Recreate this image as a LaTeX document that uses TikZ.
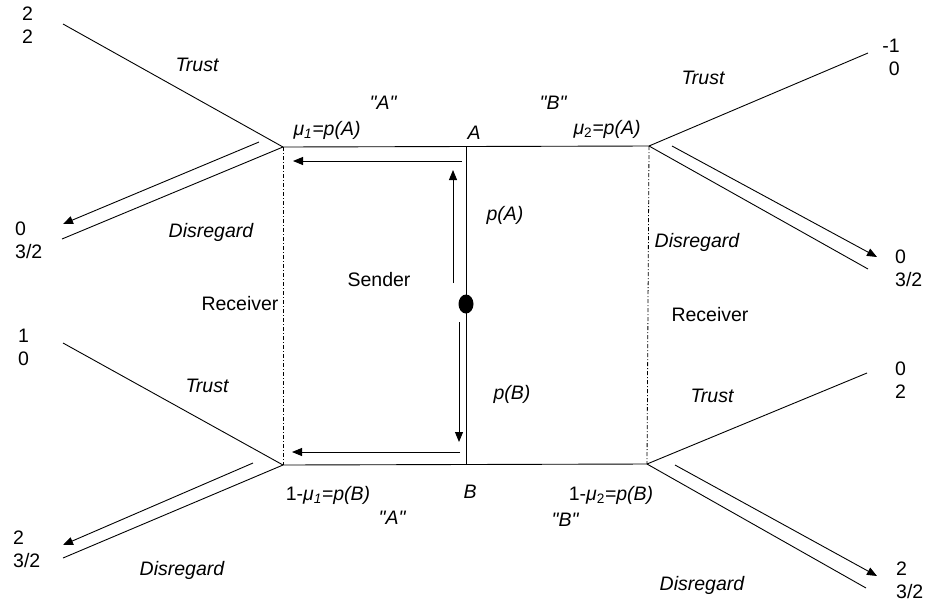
\documentclass[tikz,border=0pt]{standalone}
\usepackage{fontspec}
\setmainfont{Liberation Sans}[Ligatures=TeXOff]
\usetikzlibrary{arrows.meta,shapes.geometric}
\begin{document}
\begin{tikzpicture}[x=1pt,y=-1pt,
  every node/.style={font=\fontsize{19.5}{23}\selectfont, inner sep=0pt},
  lab/.style={anchor=base, font=\fontsize{19.5}{23}\selectfont\itshape},
  txt/.style={anchor=base},
  payw/.style={anchor=base west, align=left},
  paye/.style={anchor=base east, align=right},
  edge/.style={line width=0.9pt},
  arr/.style={line width=0.9pt, -{Triangle[length=10pt,width=8pt]}},
  info/.style={line width=0.8pt, dash pattern=on 4pt off 2pt on 1pt off 2pt}]
\useasboundingbox (0,0) rectangle (925,603);

% information-set vertices
\coordinate (TL) at (283,147);
\coordinate (TR) at (649,146);
\coordinate (BL) at (283,465);
\coordinate (BR) at (647,464);
\coordinate (nA) at (466,147);
\coordinate (nB) at (466,465);

% terminal points
\coordinate (tlT) at (63,24);
\coordinate (tlD) at (62,239);
\coordinate (tlAs) at (259,142);
\coordinate (tlAe) at (63,224);
\coordinate (blT) at (63,343);
\coordinate (blD) at (63,558);
\coordinate (blAs) at (253,463);
\coordinate (blAe) at (63,545);
\coordinate (trT) at (868,53);
\coordinate (trD) at (868,269);
\coordinate (trAs) at (672,146);
\coordinate (trAe) at (877,257);
\coordinate (brT) at (867,373);
\coordinate (brD) at (866,588);
\coordinate (brAs) at (675,465);
\coordinate (brAe) at (877,576);

% sender arrows
\coordinate (upS) at (453,283);
\coordinate (upE) at (453,170);
\coordinate (dnS) at (459,322);
\coordinate (dnE) at (459,442);
\coordinate (htS) at (462,161);
\coordinate (htE) at (293,161);
\coordinate (hbS) at (460,452);
\coordinate (hbE) at (292,452);

% main tree
\draw[edge] (TL) -- (TR);
\draw[edge] (BL) -- (BR);
\draw[edge] (nA) -- (nB);
\node[ellipse, fill, minimum width=15, minimum height=19] (dot) at (466,304) {};

\draw[info] (TL) -- (BL);
\draw[info] (TR) -- (BR);

\draw[edge] (TL) -- (tlT);
\draw[edge] (TL) -- (tlD);
\draw[arr] (tlAs) -- (tlAe);
\draw[edge] (BL) -- (blT);
\draw[edge] (BL) -- (blD);
\draw[arr] (blAs) -- (blAe);
\draw[edge] (TR) -- (trT);
\draw[edge] (TR) -- (trD);
\draw[arr] (trAs) -- (trAe);
\draw[edge] (BR) -- (brT);
\draw[edge] (BR) -- (brD);
\draw[arr] (brAs) -- (brAe);

\draw[arr] (upS) -- (upE);
\draw[arr] (dnS) -- (dnE);
\draw[arr] (htS) -- (htE);
\draw[arr] (hbS) -- (hbE);

% payoffs (anchor = baseline of last line)
\node[payw] (p1) at (22,43) {2\\2};
\node[payw] (p2) at (15,258) {0\\3/2};
\node[payw] (p3) at (18,365) {1\\0};
\node[payw] (p4) at (13,567) {2\\3/2};
\node[paye] (p5) at (900,75) {-1\\0};
\node[payw] (p6) at (895,286) {0\\3/2};
\node[payw] (p7) at (895,398) {0\\2};
\node[payw] (p8) at (896,598) {2\\3/2};

% action labels
\node[lab] (t1) at (197,71) {Trust};
\node[lab] (d1) at (211,237) {Disregard};
\node[lab] (t2) at (207,392) {Trust};
\node[lab] (d2) at (182,575) {Disregard};
\node[lab] (t3) at (703,84) {Trust};
\node[lab] (d3) at (697,247) {Disregard};
\node[lab] (t4) at (712,402) {Trust};
\node[lab] (d4) at (702,590) {Disregard};

% messages and beliefs
\node[lab] (mA1) at (383,109) {"A"};
\node[lab] (mB1) at (553,109) {"B"};
\node[lab] (mA2) at (392,524) {"A"};
\node[lab] (mB2) at (565,526) {"B"};
\node[lab] (mu1) at (327,135) {μ\textsubscript{1}=p(A)};
\node[lab] (mu2) at (607,134) {μ\textsubscript{\upshape 2}=p(A)};
\node[lab] (mu3) at (328,500) {{\upshape 1-}μ\textsubscript{1}=p(B)};
\node[lab] (mu4) at (611,500) {{\upshape 1-}μ\textsubscript{\upshape 2}=p(B)};
\node[lab] (lA) at (474,139) {A};
\node[lab] (lB) at (470,498) {B};
\node[lab] (pA) at (505,220) {p(A)};
\node[lab] (pB) at (512,399) {p(B)};

% players
\node[txt] (snd) at (379,286) {Sender};
\node[txt] (rc1) at (240,310) {Receiver};
\node[txt] (rc2) at (710,321) {Receiver};
\end{tikzpicture}
\end{document}
